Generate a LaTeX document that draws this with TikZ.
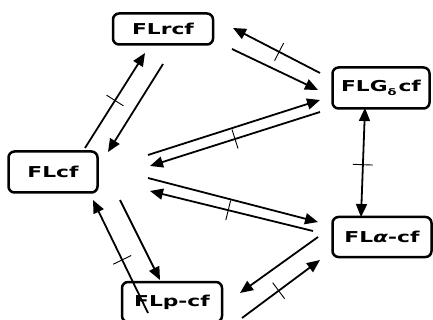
\documentclass[tikz,border=0pt]{standalone}
\usepackage{fontspec}
\newfontfamily\labfont[FakeStretch=1.45]{DejaVu Sans}
\usetikzlibrary{arrows.meta,calc}
\begin{document}
\begin{tikzpicture}[x=1pt,y=-1pt,
  box/.style={draw, line width=2.5pt, rounded corners=6pt, inner sep=0pt,
    font=\labfont\bfseries\fontsize{15}{16}\selectfont},
  arr/.style={line width=1.8pt, -{Triangle[length=13pt,width=11pt]}},
  darr/.style={line width=1.8pt, {Triangle[length=13pt,width=11pt]}-{Triangle[length=13pt,width=11pt]}},
  tkl/.style={line width=0.9pt}]
\useasboundingbox (0,0) rectangle (433,320);

\node[box, minimum width=100pt, minimum height=31pt] (rcf) at (163,29) {FLrcf};
\node[box, minimum width=97pt, minimum height=41pt] (gd) at (381,88) {FLG\raisebox{-3.5pt}{\fontsize{9}{9}\selectfont δ}\hspace{2pt}cf};
\node[box, minimum width=89pt, minimum height=41pt] (cf) at (53,172) {FLcf};
\node[box, minimum width=99pt, minimum height=40pt] (al) at (382,237) {FL{\itshape α}-cf};
\node[box, minimum width=100pt, minimum height=40pt] (pc) at (172,302) {FLp-cf};

% end points
\coordinate (a1) at (85,148);  \coordinate (b1) at (145,53);
\coordinate (a2) at (163,64);  \coordinate (b2) at (108,152);
\coordinate (a3) at (320,73);  \coordinate (b3) at (233,28);
\coordinate (a4) at (232,49);  \coordinate (b4) at (318,90);
\coordinate (a5) at (148,155); \coordinate (b5) at (320,100);
\coordinate (a6) at (320,112); \coordinate (b6) at (150,166);
\coordinate (a7) at (148,178); \coordinate (b7) at (318,222);
\coordinate (a8) at (313,231); \coordinate (b8) at (150,191);
\coordinate (a9) at (365,108); \coordinate (b9) at (361,217);
\coordinate (a10) at (318,237); \coordinate (b10) at (240,293);
\coordinate (a11) at (242,318); \coordinate (b11) at (320,260);
\coordinate (a12) at (148,313); \coordinate (b12) at (93,200);
\coordinate (a13) at (120,200); \coordinate (b13) at (160,280);

\draw[arr] (a1) -- (b1);
\draw[arr] (a2) -- (b2);
\draw[arr] (a3) -- (b3);
\draw[arr] (a4) -- (b4);
\draw[arr] (a5) -- (b5);
\draw[arr] (a6) -- (b6);
\draw[arr] (a7) -- (b7);
\draw[arr] (a8) -- (b8);
\draw[darr] (a9) -- (b9);
\draw[arr] (a10) -- (b10);
\draw[arr] (a11) -- (b11);
\draw[arr] (a12) -- (b12);
\draw[arr] (a13) -- (b13);

% ticks
\foreach \s/\e/\t in {a1/b1/0.5, a3/b3/0.47, a6/b6/0.5, a8/b8/0.52, a9/b9/0.52, a11/b11/0.47, a12/b12/0.47}
  \draw[tkl] ($(\s)!\t!(\e)!10pt!90:(\e)$) -- ($(\s)!\t!(\e)!10pt!-90:(\e)$);
\end{tikzpicture}
\end{document}
